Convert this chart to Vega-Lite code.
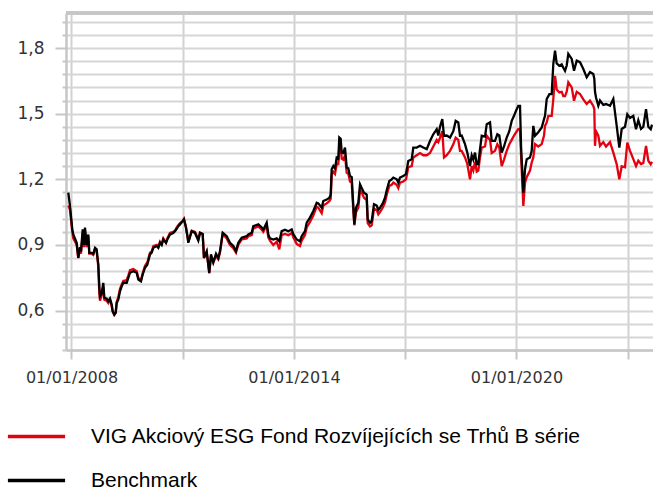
{
  "$schema": "https://vega.github.io/schema/vega-lite/v6.json",
  "width": 587,
  "height": 337,
  "autosize": {"type": "none"},
  "padding": {"left": 66, "top": 13, "right": 0, "bottom": 141},
  "background": "white",
  "config": {
    "view": {"stroke": null},
    "axis": {"domainColor": "#c6c6c6", "domainWidth": 2.5, "gridColor": "#d6d6d6", "gridWidth": 1.8, "tickColor": "#c6c6c6", "tickWidth": 2, "labelFont": "DejaVu Sans", "labelColor": "#333333", "title": null},
    "legend": {"labelFont": "Liberation Sans", "labelFontSize": 21, "labelColor": "#000000", "labelLimit": 0}
  },
  "data": {"values": [
    {"t":2007.914,"fund":1.08,"bench":1.139},{"t":2007.960,"fund":1.06,"bench":1.078},{"t":2008.022,"fund":0.96,"bench":0.971},{"t":2008.049,"fund":0.93,"bench":0.948},{"t":2008.140,"fund":0.90,"bench":0.910},{"t":2008.183,"fund":0.84,"bench":0.841},{"t":2008.229,"fund":0.88,"bench":0.89},{"t":2008.256,"fund":0.86,"bench":0.87},{"t":2008.302,"fund":0.95,"bench":0.971},{"t":2008.337,"fund":0.89,"bench":0.90},{"t":2008.364,"fund":0.96,"bench":0.979},{"t":2008.410,"fund":0.89,"bench":0.90},{"t":2008.453,"fund":0.94,"bench":0.948},{"t":2008.480,"fund":0.86,"bench":0.864},{"t":2008.545,"fund":0.86,"bench":0.864},{"t":2008.588,"fund":0.855,"bench":0.86},{"t":2008.634,"fund":0.88,"bench":0.887},{"t":2008.680,"fund":0.87,"bench":0.88},{"t":2008.696,"fund":0.845,"bench":0.85},{"t":2008.723,"fund":0.80,"bench":0.811},{"t":2008.750,"fund":0.68,"bench":0.711},{"t":2008.769,"fund":0.645,"bench":0.666},{"t":2008.814,"fund":0.67,"bench":0.68},{"t":2008.858,"fund":0.71,"bench":0.727},{"t":2008.885,"fund":0.65,"bench":0.66},{"t":2008.949,"fund":0.645,"bench":0.655},{"t":2008.992,"fund":0.635,"bench":0.643},{"t":2009.038,"fund":0.65,"bench":0.655},{"t":2009.084,"fund":0.62,"bench":0.628},{"t":2009.111,"fund":0.595,"bench":0.597},{"t":2009.154,"fund":0.58,"bench":0.582},{"t":2009.192,"fund":0.59,"bench":0.59},{"t":2009.219,"fund":0.64,"bench":0.635},{"t":2009.262,"fund":0.66,"bench":0.65},{"t":2009.308,"fund":0.70,"bench":0.688},{"t":2009.354,"fund":0.72,"bench":0.711},{"t":2009.397,"fund":0.735,"bench":0.727},{"t":2009.489,"fund":0.74,"bench":0.727},{"t":2009.532,"fund":0.76,"bench":0.75},{"t":2009.578,"fund":0.785,"bench":0.773},{"t":2009.667,"fund":0.79,"bench":0.780},{"t":2009.758,"fund":0.78,"bench":0.773},{"t":2009.802,"fund":0.75,"bench":0.742},{"t":2009.874,"fund":0.74,"bench":0.734},{"t":2009.920,"fund":0.77,"bench":0.765},{"t":2009.982,"fund":0.805,"bench":0.796},{"t":2010.044,"fund":0.82,"bench":0.81},{"t":2010.117,"fund":0.865,"bench":0.857},{"t":2010.163,"fund":0.87,"bench":0.865},{"t":2010.206,"fund":0.895,"bench":0.887},{"t":2010.298,"fund":0.90,"bench":0.895},{"t":2010.341,"fund":0.89,"bench":0.887},{"t":2010.387,"fund":0.915,"bench":0.910},{"t":2010.433,"fund":0.905,"bench":0.90},{"t":2010.476,"fund":0.93,"bench":0.925},{"t":2010.549,"fund":0.91,"bench":0.91},{"t":2010.584,"fund":0.93,"bench":0.925},{"t":2010.656,"fund":0.955,"bench":0.948},{"t":2010.745,"fund":0.96,"bench":0.955},{"t":2010.791,"fund":0.965,"bench":0.963},{"t":2010.837,"fund":0.98,"bench":0.974},{"t":2010.880,"fund":0.99,"bench":0.986},{"t":2010.926,"fund":1.0,"bench":0.994},{"t":2010.999,"fund":1.01,"bench":1.009},{"t":2011.034,"fund":1.02,"bench":1.017},{"t":2011.088,"fund":0.98,"bench":0.98},{"t":2011.134,"fund":0.93,"bench":0.933},{"t":2011.150,"fund":0.915,"bench":0.910},{"t":2011.242,"fund":0.965,"bench":0.963},{"t":2011.331,"fund":0.96,"bench":0.955},{"t":2011.420,"fund":0.925,"bench":0.92},{"t":2011.466,"fund":0.955,"bench":0.956},{"t":2011.538,"fund":0.95,"bench":0.95},{"t":2011.573,"fund":0.84,"bench":0.841},{"t":2011.646,"fund":0.87,"bench":0.87},{"t":2011.716,"fund":0.77,"bench":0.773},{"t":2011.762,"fund":0.85,"bench":0.857},{"t":2011.824,"fund":0.82,"bench":0.82},{"t":2011.897,"fund":0.85,"bench":0.86},{"t":2011.959,"fund":0.835,"bench":0.84},{"t":2012.005,"fund":0.865,"bench":0.872},{"t":2012.078,"fund":0.95,"bench":0.956},{"t":2012.186,"fund":0.93,"bench":0.94},{"t":2012.275,"fund":0.90,"bench":0.91},{"t":2012.364,"fund":0.885,"bench":0.895},{"t":2012.436,"fund":0.865,"bench":0.872},{"t":2012.498,"fund":0.90,"bench":0.91},{"t":2012.590,"fund":0.925,"bench":0.933},{"t":2012.725,"fund":0.93,"bench":0.94},{"t":2012.768,"fund":0.94,"bench":0.948},{"t":2012.860,"fund":0.945,"bench":0.956},{"t":2012.903,"fund":0.975,"bench":0.986},{"t":2013.038,"fund":0.985,"bench":0.994},{"t":2013.130,"fund":0.97,"bench":0.98},{"t":2013.173,"fund":0.96,"bench":0.97},{"t":2013.264,"fund":0.99,"bench":1.002},{"t":2013.307,"fund":0.935,"bench":0.948},{"t":2013.353,"fund":0.92,"bench":0.93},{"t":2013.442,"fund":0.90,"bench":0.925},{"t":2013.534,"fund":0.915,"bench":0.93},{"t":2013.604,"fund":0.88,"bench":0.917},{"t":2013.669,"fund":0.945,"bench":0.963},{"t":2013.758,"fund":0.95,"bench":0.97},{"t":2013.847,"fund":0.945,"bench":0.963},{"t":2013.939,"fund":0.955,"bench":0.971},{"t":2013.982,"fund":0.935,"bench":0.95},{"t":2014.073,"fund":0.905,"bench":0.925},{"t":2014.162,"fund":0.895,"bench":0.917},{"t":2014.208,"fund":0.92,"bench":0.94},{"t":2014.297,"fund":0.945,"bench":0.963},{"t":2014.343,"fund":0.98,"bench":1.002},{"t":2014.432,"fund":1.005,"bench":1.025},{"t":2014.521,"fund":1.035,"bench":1.055},{"t":2014.613,"fund":1.075,"bench":1.093},{"t":2014.656,"fund":1.07,"bench":1.09},{"t":2014.748,"fund":1.045,"bench":1.07},{"t":2014.791,"fund":1.08,"bench":1.101},{"t":2014.883,"fund":1.09,"bench":1.108},{"t":2014.953,"fund":1.10,"bench":1.115},{"t":2014.990,"fund":1.11,"bench":1.131},{"t":2015.017,"fund":1.22,"bench":1.246},{"t":2015.061,"fund":1.235,"bench":1.261},{"t":2015.106,"fund":1.225,"bench":1.25},{"t":2015.152,"fund":1.27,"bench":1.299},{"t":2015.195,"fund":1.27,"bench":1.295},{"t":2015.222,"fund":1.34,"bench":1.391},{"t":2015.260,"fund":1.35,"bench":1.385},{"t":2015.287,"fund":1.295,"bench":1.322},{"t":2015.330,"fund":1.29,"bench":1.32},{"t":2015.376,"fund":1.31,"bench":1.345},{"t":2015.422,"fund":1.23,"bench":1.254},{"t":2015.465,"fund":1.225,"bench":1.25},{"t":2015.511,"fund":1.19,"bench":1.215},{"t":2015.557,"fund":1.185,"bench":1.21},{"t":2015.600,"fund":1.06,"bench":1.078},{"t":2015.627,"fund":0.99,"bench":0.994},{"t":2015.673,"fund":1.05,"bench":1.07},{"t":2015.735,"fund":1.07,"bench":1.093},{"t":2015.781,"fund":1.15,"bench":1.177},{"t":2015.827,"fund":1.14,"bench":1.16},{"t":2015.888,"fund":1.115,"bench":1.139},{"t":2015.961,"fund":1.105,"bench":1.13},{"t":2015.988,"fund":1.00,"bench":1.017},{"t":2016.050,"fund":0.985,"bench":1.002},{"t":2016.096,"fund":0.99,"bench":1.01},{"t":2016.158,"fund":1.065,"bench":1.086},{"t":2016.231,"fund":1.06,"bench":1.08},{"t":2016.274,"fund":1.04,"bench":1.06},{"t":2016.320,"fund":1.05,"bench":1.07},{"t":2016.393,"fund":1.07,"bench":1.09},{"t":2016.455,"fund":1.095,"bench":1.116},{"t":2016.501,"fund":1.13,"bench":1.15},{"t":2016.571,"fund":1.17,"bench":1.192},{"t":2016.636,"fund":1.175,"bench":1.20},{"t":2016.679,"fund":1.185,"bench":1.208},{"t":2016.770,"fund":1.175,"bench":1.20},{"t":2016.813,"fund":1.16,"bench":1.185},{"t":2016.859,"fund":1.185,"bench":1.208},{"t":2016.948,"fund":1.19,"bench":1.215},{"t":2017.021,"fund":1.20,"bench":1.225},{"t":2017.083,"fund":1.255,"bench":1.284},{"t":2017.175,"fund":1.26,"bench":1.292},{"t":2017.218,"fund":1.30,"bench":1.345},{"t":2017.310,"fund":1.31,"bench":1.345},{"t":2017.399,"fund":1.32,"bench":1.353},{"t":2017.488,"fund":1.31,"bench":1.345},{"t":2017.580,"fund":1.31,"bench":1.338},{"t":2017.668,"fund":1.32,"bench":1.375},{"t":2017.757,"fund":1.35,"bench":1.406},{"t":2017.849,"fund":1.38,"bench":1.429},{"t":2017.892,"fund":1.37,"bench":1.40},{"t":2017.938,"fund":1.39,"bench":1.44},{"t":2018.000,"fund":1.42,"bench":1.475},{"t":2018.046,"fund":1.30,"bench":1.399},{"t":2018.119,"fund":1.31,"bench":1.40},{"t":2018.208,"fund":1.33,"bench":1.391},{"t":2018.297,"fund":1.36,"bench":1.42},{"t":2018.361,"fund":1.39,"bench":1.467},{"t":2018.431,"fund":1.38,"bench":1.46},{"t":2018.477,"fund":1.33,"bench":1.399},{"t":2018.523,"fund":1.33,"bench":1.40},{"t":2018.612,"fund":1.30,"bench":1.361},{"t":2018.674,"fund":1.27,"bench":1.322},{"t":2018.747,"fund":1.20,"bench":1.261},{"t":2018.793,"fund":1.26,"bench":1.31},{"t":2018.836,"fund":1.24,"bench":1.29},{"t":2018.882,"fund":1.28,"bench":1.322},{"t":2018.928,"fund":1.235,"bench":1.269},{"t":2018.971,"fund":1.24,"bench":1.27},{"t":2019.017,"fund":1.30,"bench":1.338},{"t":2019.063,"fund":1.345,"bench":1.399},{"t":2019.152,"fund":1.35,"bench":1.395},{"t":2019.198,"fund":1.399,"bench":1.452},{"t":2019.287,"fund":1.38,"bench":1.460},{"t":2019.332,"fund":1.32,"bench":1.376},{"t":2019.421,"fund":1.33,"bench":1.376},{"t":2019.484,"fund":1.36,"bench":1.406},{"t":2019.537,"fund":1.345,"bench":1.40},{"t":2019.602,"fund":1.26,"bench":1.322},{"t":2019.664,"fund":1.29,"bench":1.35},{"t":2019.737,"fund":1.33,"bench":1.391},{"t":2019.807,"fund":1.36,"bench":1.42},{"t":2019.872,"fund":1.38,"bench":1.467},{"t":2019.934,"fund":1.40,"bench":1.49},{"t":2019.988,"fund":1.414,"bench":1.513},{"t":2020.050,"fund":1.429,"bench":1.536},{"t":2020.096,"fund":1.43,"bench":1.536},{"t":2020.123,"fund":1.31,"bench":1.353},{"t":2020.185,"fund":1.078,"bench":1.139},{"t":2020.231,"fund":1.185,"bench":1.246},{"t":2020.276,"fund":1.21,"bench":1.292},{"t":2020.365,"fund":1.24,"bench":1.30},{"t":2020.411,"fund":1.277,"bench":1.33},{"t":2020.454,"fund":1.30,"bench":1.444},{"t":2020.500,"fund":1.361,"bench":1.399},{"t":2020.589,"fund":1.35,"bench":1.415},{"t":2020.681,"fund":1.361,"bench":1.437},{"t":2020.743,"fund":1.40,"bench":1.475},{"t":2020.770,"fund":1.444,"bench":1.49},{"t":2020.816,"fund":1.46,"bench":1.567},{"t":2020.859,"fund":1.49,"bench":1.58},{"t":2020.886,"fund":1.49,"bench":1.589},{"t":2020.950,"fund":1.49,"bench":1.589},{"t":2020.994,"fund":1.567,"bench":1.728},{"t":2021.040,"fund":1.673,"bench":1.788},{"t":2021.085,"fund":1.61,"bench":1.73},{"t":2021.156,"fund":1.597,"bench":1.719},{"t":2021.220,"fund":1.60,"bench":1.725},{"t":2021.264,"fund":1.58,"bench":1.71},{"t":2021.309,"fund":1.58,"bench":1.696},{"t":2021.355,"fund":1.60,"bench":1.72},{"t":2021.398,"fund":1.643,"bench":1.773},{"t":2021.490,"fund":1.62,"bench":1.75},{"t":2021.552,"fund":1.559,"bench":1.696},{"t":2021.625,"fund":1.60,"bench":1.742},{"t":2021.714,"fund":1.59,"bench":1.735},{"t":2021.803,"fund":1.565,"bench":1.704},{"t":2021.894,"fund":1.544,"bench":1.666},{"t":2021.983,"fund":1.56,"bench":1.69},{"t":2022.072,"fund":1.535,"bench":1.681},{"t":2022.099,"fund":1.521,"bench":1.66},{"t":2022.118,"fund":1.353,"bench":1.60},{"t":2022.145,"fund":1.42,"bench":1.574},{"t":2022.207,"fund":1.40,"bench":1.536},{"t":2022.253,"fund":1.353,"bench":1.56},{"t":2022.342,"fund":1.37,"bench":1.54},{"t":2022.415,"fund":1.35,"bench":1.544},{"t":2022.523,"fund":1.37,"bench":1.536},{"t":2022.612,"fund":1.322,"bench":1.567},{"t":2022.703,"fund":1.269,"bench":1.444},{"t":2022.774,"fund":1.20,"bench":1.345},{"t":2022.838,"fund":1.26,"bench":1.43},{"t":2022.927,"fund":1.255,"bench":1.44},{"t":2022.989,"fund":1.368,"bench":1.497},{"t":2023.062,"fund":1.33,"bench":1.48},{"t":2023.151,"fund":1.292,"bench":1.49},{"t":2023.224,"fund":1.261,"bench":1.429},{"t":2023.286,"fund":1.285,"bench":1.47},{"t":2023.359,"fund":1.27,"bench":1.43},{"t":2023.421,"fund":1.275,"bench":1.44},{"t":2023.494,"fund":1.353,"bench":1.521},{"t":2023.556,"fund":1.285,"bench":1.44},{"t":2023.620,"fund":1.269,"bench":1.429},{"t":2023.655,"fund":1.28,"bench":1.45}
  ]},
  "layer": [
    {
      "mark": {"type": "rule", "color": "#c6c6c6", "strokeWidth": 2.5},
      "encoding": {"y": {"datum": 1.96, "type": "quantitative"}}
    },
    {
      "transform": [{"fold": ["fund", "bench"], "as": ["series", "v"]}],
      "mark": {"type": "line", "strokeWidth": 2.3, "clip": true},
      "encoding": {
        "x": {
          "field": "t", "type": "quantitative",
          "scale": {"domain": [2007.852, 2023.682], "nice": false, "zero": false},
          "axis": {
            "values": [2008, 2011, 2014, 2017, 2020, 2023], "tickCount": 100,
            "grid": true, "gridWidth": 2, "gridColor": "#d2d2d2",
            "tickSize": 9, "labelPadding": 10, "labelFontSize": 16,
            "labelExpr": "datum.value % 6 == 4 ? '01/01/' + datum.value : ''"
          }
        },
        "y": {
          "field": "v", "type": "quantitative",
          "scale": {"domain": [0.42, 1.96], "nice": false, "zero": false},
          "axis": {
            "values": [0.42,0.48,0.54,0.6,0.66,0.72,0.78,0.84,0.9,0.96,1.02,1.08,1.14,1.2,1.26,1.32,1.38,1.44,1.5,1.56,1.62,1.68,1.74,1.8,1.86,1.92],
            "tickCount": 100, "labelOverlap": false,
            "grid": true, "tickSize": 11, "labelPadding": 11, "labelFontSize": 17,
            "tickDash": {"condition": {"test": "round(datum.value*100) % 30 == 0", "value": [40, 1]}, "value": [4, 40]},
            "labelExpr": "round(datum.value*100) % 30 == 0 ? replace(format(datum.value, '.1f'), '.', ',') : ''"
          }
        },
        "color": {
          "field": "series", "type": "nominal",
          "scale": {"domain": ["fund", "bench"], "range": ["#e3000f", "#000000"]},
          "legend": {
            "title": null, "orient": "none", "legendX": -53, "legendY": 400,
            "direction": "vertical", "padding": 0,
            "symbolType": "M-1.33,0H1.33", "symbolSize": 1849, "symbolStrokeWidth": 3.5,
            "labelOffset": 31, "rowPadding": 10, "labelLimit": 0,
            "labelExpr": "datum.value == 'fund' ? 'VIG Akciový ESG Fond Rozvíjejících se Trhů B série' : 'Benchmark'"
          }
        }
      }
    }
  ]
}
